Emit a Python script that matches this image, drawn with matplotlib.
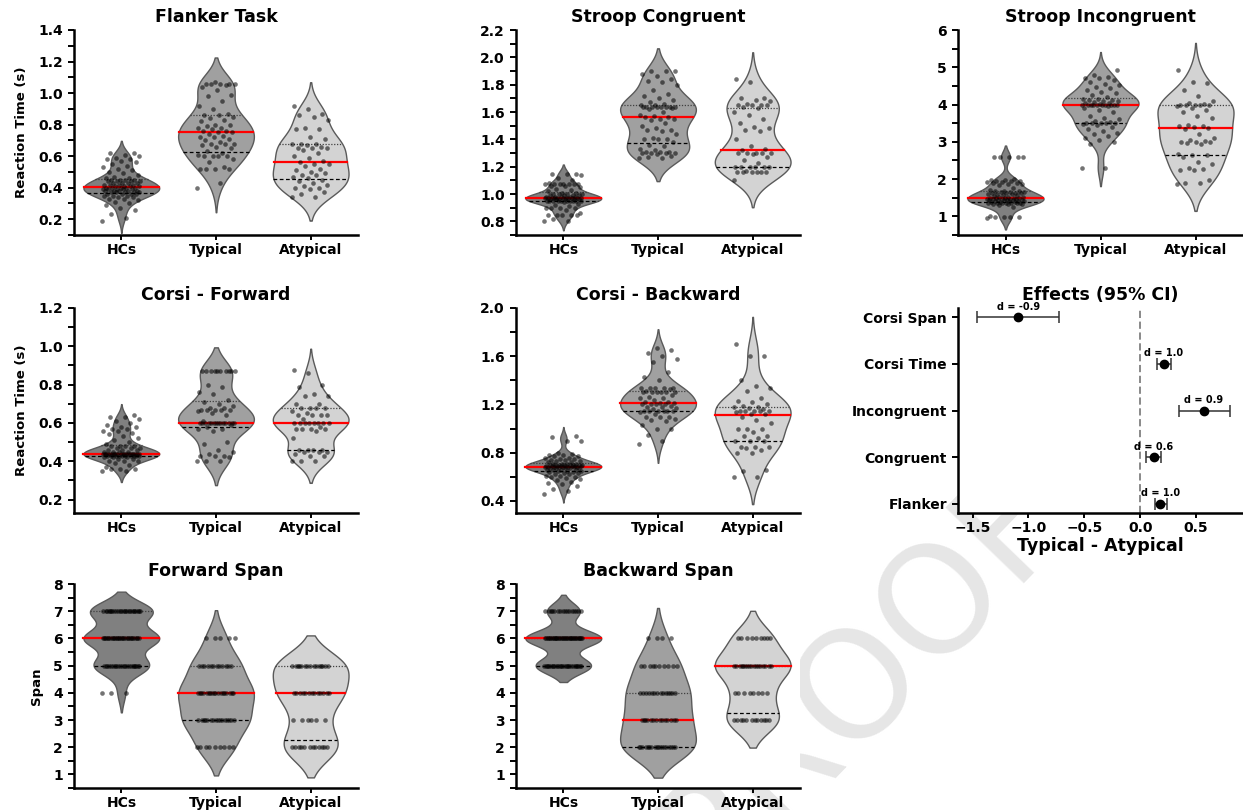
"""
Violin panels (HCs / Typical / Atypical) for the cognitive tasks plus an effect-size forest plot.
"""
import numpy as np
import matplotlib
matplotlib.use("Agg")
import matplotlib.pyplot as plt
from matplotlib import mlab
from matplotlib.ticker import MultipleLocator

plt.rcParams["font.family"] = ["DejaVu Sans"]
plt.rcParams["font.weight"] = "bold"

GROUPS = ["HCs", "Typical", "Atypical"]
GROUP_COLORS = ["#808080", "#a0a0a0", "#d3d3d3"]

# ---- Flanker task, reaction time (s)
FLANKER_HCS = [0.19, 0.21, 0.23, 0.26, 0.27, 0.29, 0.30, 0.31, 0.32, 0.33, 0.33, 0.34, 0.34, 0.35, 0.35, 0.35,
               0.36, 0.36, 0.36, 0.36, 0.37, 0.37, 0.37, 0.37, 0.37, 0.38, 0.38, 0.38, 0.38, 0.38, 0.39, 0.39,
               0.39, 0.39, 0.39, 0.40, 0.40, 0.40, 0.40, 0.40, 0.41, 0.41, 0.41, 0.41, 0.42, 0.42, 0.42, 0.42,
               0.43, 0.43, 0.43, 0.43, 0.44, 0.44, 0.44, 0.44, 0.45, 0.45, 0.45, 0.45, 0.46, 0.46, 0.47, 0.48,
               0.49, 0.50, 0.51, 0.52, 0.53, 0.54, 0.55, 0.56, 0.57, 0.58, 0.58, 0.59, 0.60, 0.61, 0.62, 0.62]
FLANKER_TYP = [0.40, 0.43, 0.52, 0.52, 0.52, 0.52, 0.53, 0.56, 0.58, 0.60, 0.60, 0.60, 0.60, 0.61, 0.62,
               0.63, 0.65, 0.66, 0.67, 0.68, 0.68, 0.68, 0.69, 0.70, 0.71, 0.72, 0.72, 0.73, 0.74, 0.75,
               0.75, 0.76, 0.76, 0.77, 0.78, 0.78, 0.79, 0.80, 0.80, 0.82, 0.83, 0.84, 0.85, 0.86, 0.86,
               0.87, 0.90, 0.92, 0.95, 0.98, 0.99, 1.02, 1.04, 1.05, 1.06, 1.06, 1.06, 1.06, 1.06, 1.07]
FLANKER_ATYP = [0.34, 0.34, 0.36, 0.37, 0.39, 0.40, 0.40, 0.41, 0.42, 0.43, 0.44, 0.45,
                0.46, 0.47, 0.48, 0.48, 0.49, 0.50, 0.51, 0.52, 0.54, 0.55, 0.55, 0.56,
                0.57, 0.59, 0.60, 0.62, 0.64, 0.65, 0.65, 0.65, 0.66, 0.67, 0.68, 0.68,
                0.68, 0.71, 0.72, 0.77, 0.77, 0.78, 0.83, 0.85, 0.86, 0.87, 0.90, 0.92]

# ---- Stroop congruent, reaction time (s)
CONG_HCS = [0.80, 0.80, 0.82, 0.85, 0.85, 0.85, 0.85, 0.85, 0.86, 0.88, 0.90, 0.90, 0.90, 0.90, 0.91, 0.92,
            0.93, 0.94, 0.95, 0.95, 0.95, 0.95, 0.95, 0.95, 0.95, 0.95, 0.95, 0.95, 0.96, 0.96, 0.96, 0.96,
            0.96, 0.96, 0.97, 0.97, 0.97, 0.97, 0.97, 0.97, 0.97, 0.97, 0.97, 0.97, 0.97, 0.98, 0.98, 0.98,
            0.98, 0.98, 0.99, 0.99, 0.99, 0.99, 1.00, 1.00, 1.00, 1.00, 1.01, 1.01, 1.02, 1.03, 1.04, 1.05,
            1.06, 1.06, 1.07, 1.07, 1.07, 1.07, 1.07, 1.07, 1.07, 1.08, 1.10, 1.12, 1.14, 1.15, 1.15, 1.15]
CONG_TYP = [1.26, 1.26, 1.27, 1.28, 1.29, 1.30, 1.30, 1.30, 1.30, 1.31, 1.31, 1.31, 1.32, 1.33, 1.35, 1.36,
            1.38, 1.40, 1.40, 1.40, 1.41, 1.44, 1.46, 1.47, 1.47, 1.48, 1.50, 1.52, 1.54, 1.55, 1.55, 1.56,
            1.56, 1.57, 1.58, 1.60, 1.62, 1.63, 1.64, 1.64, 1.64, 1.64, 1.64, 1.64, 1.64, 1.64, 1.65, 1.65,
            1.66, 1.67, 1.69, 1.70, 1.72, 1.73, 1.76, 1.80, 1.82, 1.83, 1.84, 1.86, 1.88, 1.90, 1.90, 1.90]
CONG_ATYP = [1.10, 1.16, 1.16, 1.16, 1.16, 1.16, 1.16, 1.17, 1.20, 1.20, 1.20, 1.20,
             1.20, 1.20, 1.23, 1.25, 1.27, 1.29, 1.30, 1.30, 1.30, 1.30, 1.30, 1.32,
             1.33, 1.35, 1.40, 1.46, 1.47, 1.48, 1.49, 1.52, 1.55, 1.58, 1.60, 1.63,
             1.64, 1.65, 1.65, 1.65, 1.65, 1.66, 1.68, 1.69, 1.70, 1.70, 1.82, 1.84]

# ---- Stroop incongruent, reaction time (s)
INCONG_HCS = [0.95, 0.98, 0.98, 0.98, 0.98, 1.00, 1.25, 1.30, 1.33, 1.33, 1.34, 1.35, 1.35, 1.35, 1.36, 1.36,
              1.37, 1.37, 1.38, 1.38, 1.39, 1.40, 1.40, 1.41, 1.42, 1.43, 1.43, 1.44, 1.45, 1.45, 1.45, 1.46,
              1.46, 1.47, 1.47, 1.47, 1.48, 1.48, 1.48, 1.48, 1.50, 1.51, 1.52, 1.53, 1.55, 1.56, 1.58, 1.60,
              1.60, 1.61, 1.62, 1.62, 1.63, 1.64, 1.65, 1.65, 1.66, 1.67, 1.68, 1.68, 1.70, 1.75, 1.85, 1.87,
              1.88, 1.90, 1.90, 1.92, 1.93, 1.95, 1.95, 1.96, 1.97, 1.98, 2.00, 2.60, 2.60, 2.60, 2.60, 2.60]
INCONG_TYP = [2.30, 2.30, 2.95, 3.00, 3.05, 3.10, 3.15, 3.20, 3.25, 3.30, 3.35, 3.40, 3.45, 3.48, 3.50, 3.50,
              3.50, 3.50, 3.50, 3.52, 3.55, 3.60, 3.65, 3.70, 3.80, 3.85, 3.90, 3.95, 3.98, 4.00, 4.00, 4.00,
              4.00, 4.00, 4.00, 4.00, 4.00, 4.00, 4.02, 4.05, 4.05, 4.08, 4.10, 4.10, 4.12, 4.13, 4.15, 4.15,
              4.20, 4.25, 4.30, 4.35, 4.40, 4.45, 4.48, 4.52, 4.55, 4.60, 4.65, 4.70, 4.72, 4.75, 4.80, 4.92]
INCONG_ATYP = [1.88, 1.90, 1.90, 1.98, 2.24, 2.25, 2.26, 2.30, 2.40, 2.45, 2.60, 2.65,
               2.65, 2.66, 2.95, 2.98, 3.00, 3.00, 3.00, 3.02, 3.05, 3.10, 3.20, 3.35,
               3.38, 3.40, 3.42, 3.42, 3.45, 3.65, 3.70, 3.80, 3.85, 3.90, 3.95, 3.98,
               4.00, 4.00, 4.00, 4.00, 4.02, 4.05, 4.10, 4.22, 4.38, 4.58, 4.60, 4.92]

# ---- Corsi forward, reaction time (s)
CORSI_F_HCS = [0.35, 0.35, 0.36, 0.36, 0.36, 0.37, 0.38, 0.39, 0.40, 0.40, 0.40, 0.41, 0.41, 0.42, 0.42, 0.42,
               0.43, 0.43, 0.43, 0.43, 0.43, 0.43, 0.43, 0.43, 0.43, 0.43, 0.44, 0.44, 0.44, 0.44, 0.44, 0.44,
               0.44, 0.44, 0.44, 0.44, 0.44, 0.44, 0.44, 0.44, 0.44, 0.44, 0.44, 0.44, 0.44, 0.44, 0.45, 0.45,
               0.45, 0.45, 0.46, 0.46, 0.46, 0.47, 0.47, 0.47, 0.48, 0.48, 0.48, 0.48, 0.49, 0.50, 0.51, 0.52,
               0.53, 0.54, 0.55, 0.56, 0.56, 0.57, 0.57, 0.58, 0.58, 0.59, 0.60, 0.61, 0.62, 0.63, 0.63, 0.64]
CORSI_F_TYP = [0.40, 0.40, 0.40, 0.42, 0.43, 0.43, 0.43, 0.44, 0.45, 0.46, 0.49, 0.50, 0.56, 0.57, 0.57,
               0.58, 0.59, 0.60, 0.60, 0.60, 0.60, 0.60, 0.60, 0.60, 0.60, 0.60, 0.60, 0.60, 0.60, 0.60,
               0.60, 0.61, 0.64, 0.65, 0.66, 0.67, 0.67, 0.67, 0.67, 0.67, 0.68, 0.68, 0.69, 0.70, 0.71,
               0.72, 0.75, 0.76, 0.79, 0.80, 0.87, 0.87, 0.87, 0.87, 0.87, 0.87, 0.87, 0.87, 0.87, 0.87]
CORSI_F_ATYP = [0.40, 0.40, 0.40, 0.43, 0.43, 0.44, 0.45, 0.45, 0.45, 0.46, 0.46, 0.46,
                0.46, 0.52, 0.56, 0.57, 0.57, 0.57, 0.57, 0.58, 0.60, 0.60, 0.60, 0.60,
                0.60, 0.60, 0.60, 0.60, 0.62, 0.64, 0.64, 0.64, 0.64, 0.65, 0.66, 0.68,
                0.68, 0.68, 0.68, 0.70, 0.70, 0.74, 0.74, 0.75, 0.79, 0.80, 0.86, 0.875]

# ---- Corsi backward, reaction time (s)
CORSI_B_HCS = [0.46, 0.48, 0.50, 0.52, 0.54, 0.55, 0.56, 0.57, 0.58, 0.59, 0.60, 0.60, 0.61, 0.61, 0.62, 0.62,
               0.63, 0.63, 0.64, 0.64, 0.65, 0.65, 0.65, 0.66, 0.66, 0.66, 0.66, 0.67, 0.67, 0.67, 0.67, 0.67,
               0.68, 0.68, 0.68, 0.68, 0.68, 0.68, 0.68, 0.68, 0.69, 0.69, 0.69, 0.69, 0.69, 0.69, 0.69, 0.69,
               0.70, 0.70, 0.70, 0.70, 0.70, 0.70, 0.70, 0.70, 0.71, 0.71, 0.71, 0.71, 0.72, 0.72, 0.73, 0.73,
               0.74, 0.74, 0.75, 0.75, 0.76, 0.76, 0.77, 0.77, 0.78, 0.78, 0.79, 0.80, 0.90, 0.90, 0.93, 0.94]
CORSI_B_TYP = [0.87, 0.90, 0.95, 1.00, 1.00, 1.03, 1.06, 1.07, 1.08, 1.10, 1.10, 1.10, 1.12, 1.14, 1.15,
               1.15, 1.15, 1.15, 1.15, 1.15, 1.16, 1.17, 1.18, 1.18, 1.19, 1.20, 1.20, 1.20, 1.20, 1.21,
               1.21, 1.22, 1.22, 1.24, 1.25, 1.25, 1.26, 1.28, 1.30, 1.30, 1.30, 1.30, 1.30, 1.30, 1.31,
               1.33, 1.34, 1.34, 1.34, 1.34, 1.34, 1.40, 1.43, 1.47, 1.55, 1.58, 1.60, 1.63, 1.65, 1.67]
CORSI_B_ATYP = [0.60, 0.60, 0.65, 0.66, 0.80, 0.80, 0.82, 0.84, 0.85, 0.85, 0.85, 0.90,
                0.90, 0.90, 0.92, 0.94, 0.94, 0.97, 1.00, 1.00, 1.00, 1.05, 1.07, 1.10,
                1.12, 1.12, 1.14, 1.15, 1.15, 1.15, 1.15, 1.15, 1.16, 1.17, 1.18, 1.18,
                1.19, 1.20, 1.22, 1.23, 1.25, 1.31, 1.34, 1.35, 1.40, 1.60, 1.60, 1.70]

# ---- Forward / backward span (items)
FWD_SPAN_HCS = [4] * 3 + [5] * 22 + [6] * 30 + [7] * 25
FWD_SPAN_TYP = [2] * 9 + [3] * 16 + [4] * 18 + [5] * 12 + [6] * 5
FWD_SPAN_ATYP = [2] * 12 + [3] * 6 + [4] * 13 + [5] * 15
BWD_SPAN_HCS = [5] * 27 + [6] * 37 + [7] * 16
BWD_SPAN_TYP = [2] * 18 + [3] * 14 + [4] * 14 + [5] * 10 + [6] * 4
BWD_SPAN_ATYP = [3] * 12 + [4] * 8 + [5] * 17 + [6] * 9

# ---- Effects (Typical - Atypical), 95% CI and Cohen's d
EFFECT_LABELS = ["Flanker", "Congruent", "Incongruent", "Corsi Time", "Corsi Span"]
EFFECT_DIFF = [0.18, 0.12, 0.57, 0.21, -1.09]
EFFECT_LO = [0.13, 0.05, 0.35, 0.15, -1.46]
EFFECT_HI = [0.24, 0.19, 0.80, 0.28, -0.73]
EFFECT_D = [1.0, 0.6, 0.9, 1.0, -0.9]

W, H = 1243, 810
COLS = [(74, 358), (516, 800), (958, 1243)]
ROWS = [(30, 235), (308, 513), (584, 788)]


def _add_axes(fig, row, col):
    left, right = COLS[col]
    top, bottom = ROWS[row]
    return fig.add_axes([left / W, 1 - bottom / H, (right - left) / W, (bottom - top) / H])


def _style(ax):
    for side in ("top", "right"):
        ax.spines[side].set_visible(False)
    for side in ("left", "bottom"):
        ax.spines[side].set_linewidth(1.8)
    ax.tick_params(which="both", width=1.4, length=4.5, labelsize=10)
    ax.tick_params(axis="x", length=3.5, pad=2)


def _jitter(n, spread=0.4):
    # evenly spread horizontal offsets (golden-ratio sequence)
    return ((np.arange(n) * 0.6180339887) % 1.0 - 0.5) * spread


def draw_violins(ax, groups):
    stats = []
    for vals in groups:
        d = np.asarray(vals, dtype=float)
        kde = mlab.GaussianKDE(d, "scott")
        bw = kde.factor * d.std(ddof=1)
        coords = np.linspace(d.min() - 2 * bw, d.max() + 2 * bw, 256)
        dens = kde.evaluate(coords)
        stats.append({"coords": coords, "vals": dens, "mean": d.mean(), "median": np.median(d),
                      "min": coords[0], "max": coords[-1]})

    parts = ax.violin(stats, positions=range(len(groups)), widths=0.8,
                      showmeans=False, showextrema=False, showmedians=False)
    for body, color in zip(parts["bodies"], GROUP_COLORS):
        body.set_facecolor(color)
        body.set_edgecolor("#5a5a5a")
        body.set_linewidth(1.0)
        body.set_alpha(1)
        body.set_zorder(1)

    for pos, (vals, st) in enumerate(zip(groups, stats)):
        d = np.asarray(vals, dtype=float)
        q1, med, q3 = np.percentile(d, [25, 50, 75])
        peak = st["vals"].max()
        for q, kw in ((q1, dict(color="black", lw=0.9, ls=(0, (3, 2)))),
                      (q3, dict(color="#404040", lw=0.9, ls=(0, (1, 1.3)))),
                      (med, dict(color="red", lw=1.6, ls="-"))):
            hw = 0.4 * np.interp(q, st["coords"], st["vals"]) / peak
            ax.plot([pos - hw, pos + hw], [q, q], zorder=2, **kw)
        ax.scatter(pos + _jitter(len(d)), d, s=11, color="black", alpha=0.55,
                   linewidths=0, zorder=3)

    ax.set_xlim(-0.5, 2.5)
    ax.set_xticks(range(len(groups)))
    ax.set_xticklabels(GROUPS, fontsize=9.5)


PANELS = [
    (0, 0, "Flanker Task", [FLANKER_HCS, FLANKER_TYP, FLANKER_ATYP], (0.1, 1.4), 0.2, 0.1, "Reaction Time (s)"),
    (0, 1, "Stroop Congruent", [CONG_HCS, CONG_TYP, CONG_ATYP], (0.7, 2.2), 0.2, 0.1, None),
    (0, 2, "Stroop Incongruent", [INCONG_HCS, INCONG_TYP, INCONG_ATYP], (0.5, 6.0), 1, 0.5, None),
    (1, 0, "Corsi - Forward", [CORSI_F_HCS, CORSI_F_TYP, CORSI_F_ATYP], (0.13, 1.2), 0.2, 0.1, "Reaction Time (s)"),
    (1, 1, "Corsi - Backward", [CORSI_B_HCS, CORSI_B_TYP, CORSI_B_ATYP], (0.3, 2.0), 0.4, 0.2, None),
    (2, 0, "Forward Span", [FWD_SPAN_HCS, FWD_SPAN_TYP, FWD_SPAN_ATYP], (0.5, 8.0), 1, 0.5, "Span"),
    (2, 1, "Backward Span", [BWD_SPAN_HCS, BWD_SPAN_TYP, BWD_SPAN_ATYP], (0.5, 8.0), 1, 0.5, None),
]

fig = plt.figure(figsize=(W / 100, H / 100), dpi=100)

# proof watermark, drawn underneath the (white) axes
fig.text(861 / W, 1 - 678 / H, "PROOF", rotation=46, rotation_mode="anchor", ha="center", va="center",
         fontsize=108, fontweight="normal", color="#e6e6e6", zorder=-1)

for row, col, title, groups, ylim, major, minor, ylabel in PANELS:
    ax = _add_axes(fig, row, col)
    draw_violins(ax, groups)
    ax.set_ylim(*ylim)
    ax.yaxis.set_major_locator(MultipleLocator(major))
    ax.yaxis.set_minor_locator(MultipleLocator(minor))
    ax.set_title(title, fontsize=12.5, fontweight="bold")
    if ylabel:
        ax.set_ylabel(ylabel, fontsize=9.5, fontweight="bold", labelpad=7)
    _style(ax)

# forest plot of the group effects
ax = _add_axes(fig, 1, 2)
ypos = np.arange(len(EFFECT_LABELS))
diff = np.array(EFFECT_DIFF)
xerr = [diff - np.array(EFFECT_LO), np.array(EFFECT_HI) - diff]
ax.axvline(0, color="#808080", lw=1.3, ls=(0, (4, 2)), zorder=1)
ax.errorbar(diff, ypos, xerr=xerr, fmt="o", color="black", ecolor="#333333", elinewidth=1.1,
            capsize=4, capthick=1.1, markersize=6, zorder=3)
for x, y, d in zip(diff, ypos, EFFECT_D):
    ax.text(x, y + 0.12, f"d = {d:.1f}", ha="center", va="bottom", fontsize=7, fontweight="bold")
ax.set_yticks(ypos)
ax.set_yticklabels(EFFECT_LABELS)
ax.set_ylim(-0.2, 4.2)
ax.set_xlim(-1.63, 0.92)
ax.set_xticks([-1.5, -1.0, -0.5, 0.0, 0.5])
ax.set_title("Effects (95% CI)", fontsize=12.5, fontweight="bold")
ax.set_xlabel("Typical - Atypical", fontsize=12.5, fontweight="bold", labelpad=2)
_style(ax)

fig.savefig("out.png", dpi=100)
